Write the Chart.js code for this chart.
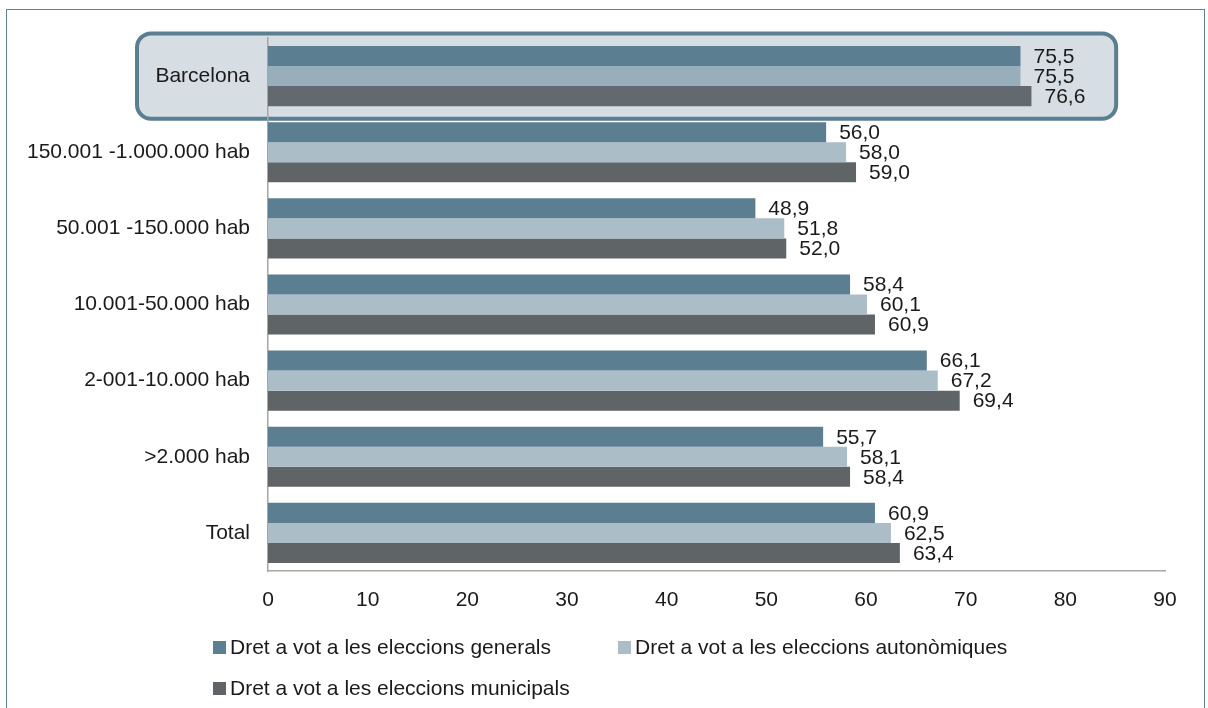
<!DOCTYPE html>
<html>
<head>
<meta charset="utf-8">
<script src="https://cdn.jsdelivr.net/npm/chart.js@4.4.0/dist/chart.umd.min.js"></script>
<style>
  body { margin: 0; background: #fff; font-family: "Liberation Sans", Arial, sans-serif; }
  #wrap { position: relative; width: 1208px; height: 708px; overflow: hidden; }
  #marc { position: absolute; left: 6px; top: 9px; width: 1197px; height: 720px; border: 1.5px solid #5f8193; }
  #llegenda { position: absolute; left: 213px; top: 0; width: 900px; height: 708px; font-size: 21px; color: #1a1a1a; }
  .item { position: absolute; display: flex; align-items: center; white-space: nowrap; }
  .item span.q { display: inline-block; width: 13px; height: 13px; margin-right: 4px; }
</style>
</head>
<body>
<div id="wrap">
  <div id="marc"></div>
  <canvas id="grafic"></canvas>
  <div id="llegenda"></div>
</div>
<script>
// Dades
var categories = ['Barcelona', '150.001 -1.000.000 hab', '50.001 -150.000 hab', '10.001-50.000 hab', '2-001-10.000 hab', '>2.000 hab', 'Total'];
var generals = [75.5, 56.0, 48.9, 58.4, 66.1, 55.7, 60.9];
var autonomiques = [75.5, 58.0, 51.8, 60.1, 67.2, 58.1, 62.5];
var municipals = [76.6, 59.0, 52.0, 60.9, 69.4, 58.4, 63.4];
var nomsSeries = ['Dret a vot a les eleccions generals', 'Dret a vot a les eleccions autonòmiques', 'Dret a vot a les eleccions municipals'];
var ticksX = [0, 10, 20, 30, 40, 50, 60, 70, 80, 90];

var colors = ['#5b7e90', '#abbdc7', '#5f6467'];
var colorsBarcelona = ['#5b7e90', '#98aeba', '#626a6f'];
var font = '"Liberation Sans", Arial, sans-serif';

function colorBarra(serie) {
    return function (c) { return c.dataIndex === 0 ? colorsBarcelona[serie] : colors[serie]; };
}

// requadre de Barcelona
var requadre = {
    id: 'requadre',
    beforeDraw: function (chart) {
        var ctx = chart.ctx;
        var y = chart.scales.y;
        var x = chart.scales.x;
        var pas = (y.bottom - y.top) / categories.length;
        var yc = y.getPixelForValue(0);
        var top = yc - pas * 0.56, h = pas * 1.12;
        var left = x.left - 131, right = x.getPixelForValue(85.1);
        ctx.save();
        ctx.beginPath();
        ctx.roundRect(left, top, right - left, h, 14);
        ctx.fillStyle = '#d6dee4';
        ctx.fill();
        ctx.lineWidth = 4;
        ctx.strokeStyle = '#5b7e90';
        ctx.stroke();
        ctx.restore();
    }
};

// etiquetes de valor
var etiquetes = {
    id: 'etiquetes',
    afterDatasetsDraw: function (chart) {
        var ctx = chart.ctx;
        ctx.save();
        ctx.font = '21px ' + font;
        ctx.fillStyle = '#1a1a1a';
        ctx.textBaseline = 'middle';
        ctx.textAlign = 'left';
        chart.data.datasets.forEach(function (ds, i) {
            chart.getDatasetMeta(i).data.forEach(function (bar, j) {
                ctx.fillText(ds.data[j].toFixed(1).replace('.', ','), bar.x + 13, bar.y + 1);
            });
        });
        ctx.restore();
    }
};

var ctx = document.getElementById('grafic').getContext('2d');
var myChart = new Chart(ctx, {
    type: 'bar',
    data: {
        labels: categories,
        datasets: [
            { label: nomsSeries[0], data: generals, backgroundColor: colorBarra(0) },
            { label: nomsSeries[1], data: autonomiques, backgroundColor: colorBarra(1) },
            { label: nomsSeries[2], data: municipals, backgroundColor: colorBarra(2) }
        ]
    },
    options: {
        indexAxis: 'y',
        responsive: true,
        maintainAspectRatio: false,
        animation: false,
        layout: { padding: { top: 38, right: 43, bottom: 87, left: 0 } },
        datasets: { bar: { categoryPercentage: 0.79, barPercentage: 1.0 } },
        scales: {
            x: {
                min: 0,
                max: 90,
                afterBuildTicks: function (s) { s.ticks = ticksX.map(function (v) { return { value: v }; }); },
                afterFit: function (s) { s.height = 50; },
                grid: { display: false, drawTicks: false },
                border: { display: true, color: '#a6a6a6', width: 1.5 },
                ticks: { padding: 17, color: '#1a1a1a', font: { family: font, size: 21 } }
            },
            y: {
                afterFit: function (s) { s.width = 268; },
                grid: { display: false, drawTicks: false },
                border: { display: true, color: '#a6a6a6', width: 1.5 },
                ticks: { padding: 18, color: '#1a1a1a', font: { family: font, size: 21 } }
            }
        },
        plugins: {
            legend: { display: false },
            tooltip: { enabled: false }
        }
    },
    plugins: [requadre, etiquetes]
});

// llegenda
var posicions = [[0, 647], [405, 647], [0, 688]];
var llegenda = document.getElementById('llegenda');
nomsSeries.forEach(function (nom, i) {
    var d = document.createElement('div');
    d.className = 'item';
    d.style.left = posicions[i][0] + 'px';
    d.style.top = (posicions[i][1] - 12) + 'px';
    d.innerHTML = '<span class="q" style="background:' + colors[i] + '"></span>' + nom;
    llegenda.appendChild(d);
});
</script>
</body>
</html>
